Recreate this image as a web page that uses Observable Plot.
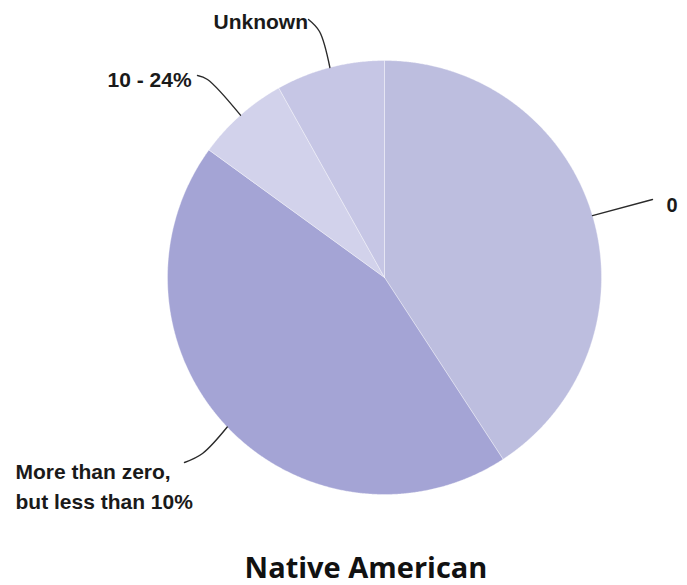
<!DOCTYPE html>
<html><head><meta charset="utf-8">
<script src="https://cdn.jsdelivr.net/npm/d3@7"></script>
<script src="https://cdn.jsdelivr.net/npm/@observablehq/plot@0.6"></script>
<style>
body{margin:0;background:#fff;overflow:hidden;width:687px;height:585px}
#chart svg{display:block}
#title{width:732px;text-align:center;font-family:"Open Sans",sans-serif;font-weight:700;font-size:29px;line-height:30px;color:#111;margin:0}
</style>
</head><body><div id="chart"></div><div id="title"></div>
<script>
// ---- data ----
const categories = ["0", "More than zero, but less than 10%", "10 - 24%", "Unknown"];
const labelTexts = ["0", "More than zero,\nbut less than 10%", "10 - 24%", "Unknown"];
const values = [40.8, 44.2, 6.9, 8.1];
const title = "Native American";

// ---- styles / layout ----
const colors = ["#bdbedf", "#a4a4d5", "#d2d2eb", "#c6c6e5"];
const W = 687, H = 552, cx = 384, cy = 277, r = 217;
// label placement in pixels: text anchor point, leader elbow, leader end
const labelLayout = [
  {tx: 666, ty: 203.6, size: 20, lh: 1.2, elbow: null, end: [652, 199]},
  {tx: 15, ty: 484, size: 21, lh: 1.4, elbow: [202, 453], end: [184, 462]},
  {tx: 107, ty: 78.6, size: 21, lh: 1.2, elbow: [207, 79], end: [197, 75]},
  {tx: 213, ty: 20.6, size: 21, lh: 1.2, elbow: [319, 31], end: [308, 19]}
];
const ux = px => (px - cx) / r;
const uy = py => (cy - py) / r;

// ---- geometry from data ----
const arcs = d3.pie().sort(null).value(d => d)(values);
const pieRows = [];
arcs.forEach((a, i) => {
  pieRows.push({cat: categories[i], x: 0, y: 0});
  const n = Math.max(2, Math.ceil((a.endAngle - a.startAngle) / 0.005));
  for (let k = 0; k <= n; k++) {
    const t = a.startAngle + (a.endAngle - a.startAngle) * k / n;
    pieRows.push({cat: categories[i], x: Math.sin(t), y: Math.cos(t)});
  }
  pieRows.push({cat: categories[i], x: 0, y: 0});
});

const leaderRows = [];
arcs.forEach((a, i) => {
  const m = (a.startAngle + a.endAngle) / 2;
  const L = labelLayout[i];
  leaderRows.push({cat: categories[i], x: Math.sin(m), y: Math.cos(m)});
  if (L.elbow) leaderRows.push({cat: categories[i], x: ux(L.elbow[0]), y: uy(L.elbow[1])});
  leaderRows.push({cat: categories[i], x: ux(L.end[0]), y: uy(L.end[1])});
});

const textMarks = labelTexts.map((t, i) => Plot.text([{text: t, x: ux(labelLayout[i].tx), y: uy(labelLayout[i].ty)}], {
  x: "x", y: "y", text: "text", textAnchor: "start", lineHeight: labelLayout[i].lh,
  fontSize: labelLayout[i].size, fontWeight: 700, fontFamily: "Liberation Sans, Arial, sans-serif", fill: "#1a1a1a"
}));

const plot = Plot.plot({
  width: W, height: H,
  margin: 0,
  x: {domain: [-1, 1], range: [cx - r, cx + r], axis: null},
  y: {domain: [-1, 1], range: [cy + r, cy - r], axis: null},
  color: {domain: categories, range: colors},
  style: {background: "#fff"},
  marks: [
    Plot.line(pieRows, {x: "x", y: "y", z: "cat", fill: "cat", stroke: "#ffffff", strokeWidth: 1, strokeOpacity: 0.35}),
    Plot.line(leaderRows, {x: "x", y: "y", z: "cat", curve: "catmull-rom", stroke: "#2a2a2a", strokeWidth: 1.4}),
    ...textMarks
  ]
});
document.getElementById("chart").appendChild(plot);
document.getElementById("title").textContent = title;
</script>
</body></html>
